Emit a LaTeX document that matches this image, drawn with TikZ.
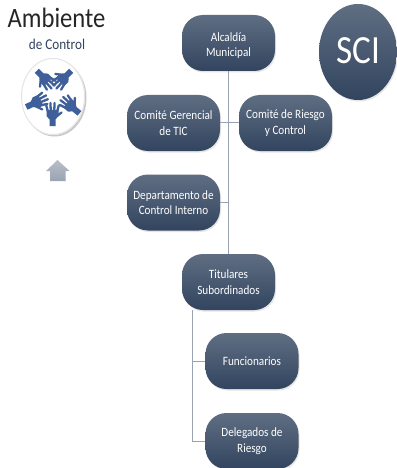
\documentclass[tikz,border=0pt]{standalone}
\usepackage{fontspec}
\setmainfont{Carlito}
\newfontfamily\narrowf[FakeStretch=0.88]{Carlito}
\usetikzlibrary{shadows}
\definecolor{boxtop}{HTML}{5F6E82}
\definecolor{boxbot}{HTML}{32445F}
\definecolor{linecol}{HTML}{9AA3B2}
\definecolor{handcol}{HTML}{3E5F99}
\tikzset{
  x=1pt,y=-1pt,
  softshadow/.style={drop shadow={opacity=.2,shadow xshift=1pt,shadow yshift=-1.5pt}},
  orgbox/.style={rectangle,rounded corners=21pt,minimum width=93pt,minimum height=56pt,inner sep=0pt,
    top color=boxtop,bottom color=boxbot,draw=none,text=white,align=center,
    font=\narrowf\fontsize{12.7}{15.5}\selectfont,softshadow},
  conn/.style={draw=linecol,line width=1pt},
  finger/.style={draw=handcol,line cap=round,line width=2.3pt},
  hand/.pic={
    \fill[handcol] (-3,13) -- (-3,6.5) -- (-6,3) -- (-6,-3) -- (6,-3) -- (6,3) -- (3,6.5) -- (3,13) -- cycle;
    \draw[finger] (-4.8,-2) -- (-6.2,-7.5);
    \draw[finger] (-1.7,-2) -- (-2.1,-10);
    \draw[finger] (1.7,-2) -- (2.1,-10);
    \draw[finger] (4.8,-2) -- (6.2,-7.5);
    \draw[finger] (4.5,3) -- (9,-0.5);
  }
}
\begin{document}
\begin{tikzpicture}
\useasboundingbox (0,0) rectangle (396,468);
\fill[white] (0,0) rectangle (396,468);

\node[orgbox] (alc) at (228.5,43) {\rule{0pt}{14pt}Alcaldía\\Municipal};
\node[orgbox] (ger) at (173.5,123) {Comité Gerencial\\de TIC};
\node[orgbox] (rie) at (285.5,123) {Comité de Riesgo\\y Control};
\node[orgbox] (dep) at (173.5,202.5) {Departamento de\\Control Interno};
\node[orgbox] (tit) at (228.5,282) {Titulares\\Subordinados};
\node[orgbox] (fun) at (252,361) {Funcionarios};
\node[orgbox] (del) at (252,441) {Delegados de\\Riesgo};
\coordinate (titl) at (192,310);
\draw[conn] (alc.south) -- (tit.north);
\draw[conn] (ger.east) -- (rie.west);
\draw[conn] (dep.east) -- (dep.east -| alc.south);
\draw[conn] (titl) |- (fun.west);
\draw[conn] (titl) |- (del.west);

% SCI circle
\shade[top color=boxtop,bottom color=boxbot,softshadow] (358,52) ellipse [x radius=39,y radius=48];
\node[text=white,font=\narrowf\fontsize{40}{40}\selectfont] (sci) at (358.5,51) {SCI};

% titles
\node[text=black!85,font=\narrowf\fontsize{28}{28}\selectfont] (amb) at (56.5,18) {Ambiente};
\node[text=boxbot,font=\narrowf\fontsize{15}{15}\selectfont] (dec) at (57,44) {de Control};

% emblem
\fill[black!35,opacity=.6] (54.5,98) ellipse [x radius=32,y radius=38.5];
\fill[white] (53,96.5) ellipse [x radius=32,y radius=38.5];
\draw[black!10,line width=1pt] (53,96.5) ellipse [x radius=31.5,y radius=38];
\pic[rotate=0] at (52.5,113) {hand};
\pic[rotate=-135] at (46,80) {hand};
\pic[rotate=135] at (62,80) {hand};
\pic[rotate=50] at (69.5,105) {hand};
\pic[rotate=-65] at (38,101.5) {hand};

% small arrow
\path[top color=linecol!70,bottom color=linecol,draw=none] (57.5,160) -- (69.5,171) -- (65.5,171) -- (65.5,181) -- (50,181) -- (50,171) -- (46,171) -- cycle;
\end{tikzpicture}
\end{document}
